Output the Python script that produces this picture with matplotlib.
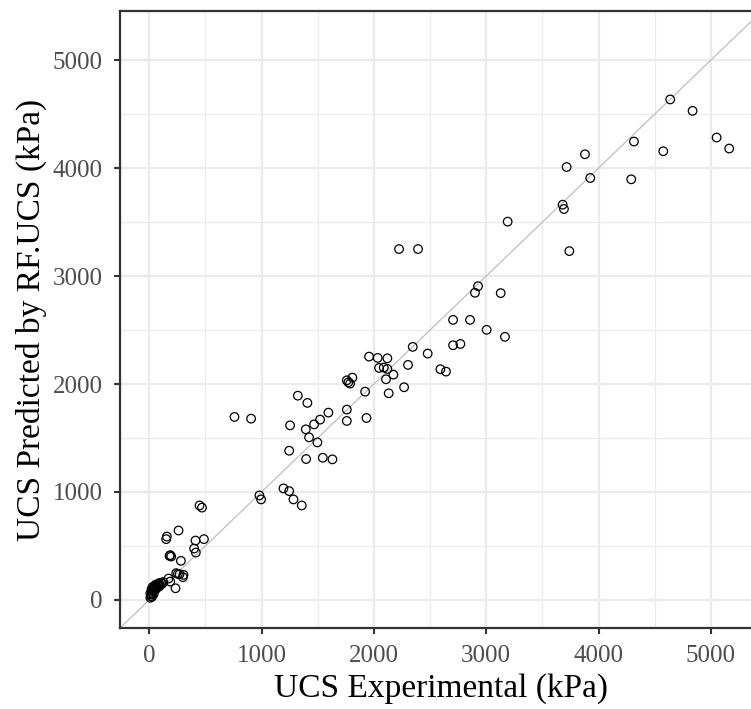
import matplotlib
matplotlib.use("Agg")
import matplotlib.pyplot as plt
from matplotlib.ticker import MultipleLocator

# UCS experimental vs RF predicted (kPa)
ucs_exp = [
    4638, 4837, 5051, 5163, 4315, 4576, 4291, 3879, 3716, 3926, 3680, 3692, 3740,
    3191, 2927, 2900, 3129, 3004, 3167, 2224, 2393,
    2705, 2856, 2705, 2770, 2346, 2479, 2592, 2642, 2304, 1957, 2034, 2120,
    2046, 2088, 2120, 2174, 2108, 2269, 2132, 1922,
    1759, 1773, 1788, 1809, 1759, 1759, 1934, 1595, 1521, 1468, 1408, 1323,
    1394, 1423, 1497, 1397, 1545, 1631,
    759, 907, 1254, 1246, 981, 996, 1195, 1246, 1284, 1358,
    448, 470, 157, 151, 261, 412, 487, 400, 415, 187, 196, 181, 282, 240,
    270, 300, 172, 187, 234, 255, 305,
    10, 15, 20, 25, 30, 35, 20, 40, 45, 50, 55, 65, 75, 85, 95, 105, 115,
    125, 60, 30, 10, 40, 70, 90,
]
ucs_pred = [
    4636, 4530, 4283, 4181, 4246, 4156, 3896, 4128, 4010, 3908, 3661, 3621, 3231,
    3504, 2906, 2845, 2842, 2502, 2437, 3250, 3250,
    2594, 2594, 2359, 2371, 2344, 2282, 2137, 2115, 2177, 2254, 2242, 2238,
    2149, 2152, 2140, 2087, 2044, 1970, 1914, 1929,
    2034, 2016, 2004, 2059, 1763, 1658, 1685, 1735, 1670, 1626, 1825, 1892,
    1580, 1506, 1459, 1305, 1317, 1302,
    1695, 1679, 1617, 1382, 968, 931, 1033, 1008, 931, 875,
    875, 855, 587, 563, 643, 550, 563, 476, 439, 415, 402, 408, 362, 248,
    238, 211, 198, 170, 108, 241, 232,
    20, 35, 50, 30, 65, 80, 95, 110, 90, 125, 140, 130, 145, 155, 140, 160, 150,
    165, 100, 120, 60, 55, 115, 125,
]

lims = (-260, 5455)
ticks = [0, 1000, 2000, 3000, 4000, 5000]

fig = plt.figure(figsize=(7.51, 7.09), dpi=100)
ax = fig.add_axes([120 / 751, 81 / 709, 642 / 751, 617 / 709])

ax.axline((0, 0), slope=1, color="#BEBEBE", lw=0.9, zorder=2)
ax.scatter(ucs_exp, ucs_pred, s=38, facecolors="none", edgecolors="black",
           linewidths=0.9, zorder=3)

ax.set_xlim(lims)
ax.set_ylim(lims)
ax.set_xticks(ticks)
ax.set_yticks(ticks)
ax.xaxis.set_minor_locator(MultipleLocator(500))
ax.yaxis.set_minor_locator(MultipleLocator(500))
ax.grid(which="major", color="#EBEBEB", lw=1.7, zorder=0)
ax.grid(which="minor", color="#EBEBEB", lw=0.9, zorder=0)
ax.set_axisbelow(True)

for side in ["left", "bottom", "top"]:
    ax.spines[side].set_color("#333333")
    ax.spines[side].set_linewidth(1.6)
ax.spines["right"].set_visible(False)

ax.tick_params(which="major", length=4.5, width=1.5, color="#333333",
               labelcolor="#4D4D4D", labelsize=18, pad=8)
ax.tick_params(which="minor", length=0)
for lab in ax.get_xticklabels() + ax.get_yticklabels():
    lab.set_family("Liberation Serif")

ax.set_xlabel("UCS Experimental (kPa)", family="Liberation Serif", fontsize=24,
              labelpad=4)
ax.set_ylabel("UCS Predicted by RF.UCS (kPa)", family="Liberation Serif",
              fontsize=24, labelpad=4)

fig.savefig("out.png", dpi=100)
